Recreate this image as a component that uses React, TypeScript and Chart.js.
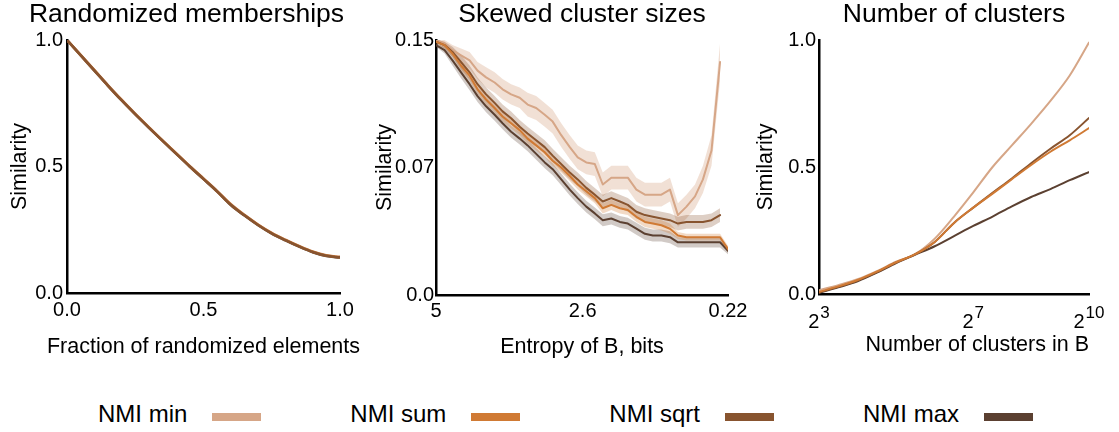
import React, { useEffect, useRef } from "react";
import { Chart, registerables } from "chart.js";

Chart.register(...registerables);

const FONT = "'Liberation Sans', Arial, Helvetica, sans-serif";

const SERIES_NAMES = ["NMI min", "NMI sum", "NMI sqrt", "NMI max"];
const SERIES_COLORS = ["#d6a687", "#d07a34", "#88542f", "#5b4031"];
const BAND_COLORS = [
  "rgba(214,166,135,0.35)",
  "rgba(208,122,52,0.28)",
  "rgba(136,84,47,0.28)",
  "rgba(91,64,49,0.28)",
];
const Y_TITLE = "Similarity";

// ---------- Panel 1: Randomized memberships ----------
const P1_TITLE = "Randomized memberships";
const P1_XLABEL = "Fraction of randomized elements";
const P1_X = [0, 0.05, 0.1, 0.15, 0.2, 0.25, 0.3, 0.35, 0.4, 0.45, 0.5, 0.55, 0.6, 0.65, 0.7, 0.75, 0.8, 0.85, 0.9, 0.95, 1.0];
const P1_MIN = [1.0, 0.941, 0.882, 0.822, 0.764, 0.709, 0.656, 0.603, 0.553, 0.502, 0.453, 0.404, 0.352, 0.309, 0.271, 0.238, 0.211, 0.186, 0.164, 0.149, 0.143];
const P1_SUM = [1.0, 0.94, 0.881, 0.82, 0.763, 0.707, 0.655, 0.602, 0.552, 0.5, 0.452, 0.402, 0.35, 0.308, 0.27, 0.237, 0.21, 0.185, 0.163, 0.148, 0.142];
const P1_SQRT = [1.0, 0.94, 0.88, 0.82, 0.762, 0.707, 0.654, 0.602, 0.551, 0.5, 0.451, 0.402, 0.349, 0.307, 0.269, 0.236, 0.209, 0.184, 0.162, 0.147, 0.141];
const P1_MAX = [1.0, 0.939, 0.879, 0.819, 0.761, 0.706, 0.653, 0.601, 0.55, 0.499, 0.45, 0.401, 0.348, 0.306, 0.268, 0.235, 0.208, 0.183, 0.161, 0.146, 0.14];
const P1_X_TICKS = [0, 0.5, 1];
const P1_X_LABELS = ["0.0", "0.5", "1.0"];
const P1_Y_TICKS = [0, 0.5, 1];
const P1_Y_LABELS = ["0.0", "0.5", "1.0"];

// ---------- Panel 2: Skewed cluster sizes ----------
const P2_TITLE = "Skewed cluster sizes";
const P2_XLABEL = "Entropy of B, bits";
const P2_X = [5.0, 4.86, 4.73, 4.59, 4.45, 4.32, 4.18, 4.04, 3.91, 3.77, 3.63, 3.5, 3.36, 3.22, 3.09, 2.95, 2.81, 2.68, 2.54, 2.4, 2.27, 2.13, 1.99, 1.86, 1.72, 1.58, 1.45, 1.31, 1.17, 1.04, 0.9, 0.76, 0.63, 0.49, 0.35, 0.22];
const P2_MIN = [0.15, 0.148, 0.144, 0.141, 0.138, 0.132, 0.128, 0.125, 0.121, 0.118, 0.116, 0.112, 0.11, 0.106, 0.102, 0.094, 0.087, 0.081, 0.078, 0.077, 0.065, 0.069, 0.069, 0.069, 0.062, 0.059, 0.059, 0.059, 0.062, 0.047, 0.052, 0.058, 0.068, 0.085, 0.137, null];
const P2_SUM = [0.149, 0.147, 0.142, 0.135, 0.129, 0.121, 0.115, 0.11, 0.105, 0.101, 0.097, 0.092, 0.088, 0.084, 0.079, 0.075, 0.07, 0.065, 0.061, 0.057, 0.051, 0.053, 0.051, 0.05, 0.046, 0.043, 0.042, 0.041, 0.039, 0.035, 0.034, 0.034, 0.034, 0.034, 0.034, 0.027];
const P2_SQRT = [0.149, 0.147, 0.143, 0.137, 0.131, 0.124, 0.118, 0.113, 0.108, 0.104, 0.099, 0.095, 0.091, 0.087, 0.082, 0.077, 0.072, 0.068, 0.063, 0.059, 0.055, 0.057, 0.055, 0.053, 0.049, 0.047, 0.046, 0.045, 0.044, 0.042, 0.043, 0.043, 0.043, 0.044, 0.047, null];
const P2_MAX = [0.147, 0.144, 0.138, 0.131, 0.124, 0.117, 0.111, 0.106, 0.101, 0.096, 0.092, 0.088, 0.083, 0.078, 0.074, 0.068, 0.062, 0.057, 0.052, 0.048, 0.044, 0.045, 0.043, 0.042, 0.039, 0.036, 0.035, 0.035, 0.034, 0.031, 0.031, 0.031, 0.031, 0.031, 0.031, 0.026];
const P2_MIN_SPREAD = [0.001, 0.002, 0.003, 0.004, 0.005, 0.005, 0.006, 0.006, 0.006, 0.006, 0.006, 0.007, 0.007, 0.007, 0.007, 0.007, 0.007, 0.007, 0.007, 0.007, 0.007, 0.007, 0.007, 0.007, 0.007, 0.007, 0.007, 0.007, 0.007, 0.007, 0.007, 0.007, 0.008, 0.009, 0.011, null];
const P2_SUM_SPREAD = [0.001, 0.002, 0.002, 0.003, 0.003, 0.003, 0.003, 0.003, 0.003, 0.003, 0.003, 0.003, 0.003, 0.003, 0.003, 0.003, 0.003, 0.003, 0.003, 0.003, 0.003, 0.003, 0.003, 0.003, 0.003, 0.003, 0.003, 0.003, 0.003, 0.002, 0.002, 0.002, 0.002, 0.002, 0.002, 0.002];
const P2_SQRT_SPREAD = [0.001, 0.002, 0.003, 0.004, 0.004, 0.004, 0.004, 0.004, 0.004, 0.004, 0.004, 0.004, 0.004, 0.004, 0.004, 0.004, 0.004, 0.004, 0.004, 0.004, 0.004, 0.004, 0.004, 0.004, 0.004, 0.004, 0.004, 0.004, 0.004, 0.004, 0.004, 0.004, 0.004, 0.004, 0.004, null];
const P2_MAX_SPREAD = [0.001, 0.002, 0.003, 0.0035, 0.0035, 0.0035, 0.0035, 0.0035, 0.0035, 0.0035, 0.0035, 0.0035, 0.0035, 0.0035, 0.0035, 0.0035, 0.0035, 0.0035, 0.0035, 0.0035, 0.0035, 0.0035, 0.0035, 0.0035, 0.0035, 0.0035, 0.0035, 0.0035, 0.0035, 0.003, 0.003, 0.003, 0.003, 0.003, 0.003, 0.002];
const P2_X_TICKS = [5, 2.6, 0.22];
const P2_X_LABELS = ["5", "2.6", "0.22"];
const P2_Y_TICKS = [0, 0.075, 0.15];
const P2_Y_LABELS = ["0.0", "0.07", "0.15"];

// ---------- Panel 3: Number of clusters ----------
const P3_TITLE = "Number of clusters";
const P3_XLABEL = "Number of clusters in B";
const P3_X = [3, 3.5, 4, 4.5, 5, 5.5, 6, 6.5, 7, 7.5, 8, 8.5, 9, 9.5, 10]; // log2(#clusters)
const P3_MIN = [0.015, 0.035, 0.058, 0.09, 0.127, 0.158, 0.218, 0.305, 0.4, 0.5, 0.585, 0.67, 0.76, 0.86, 0.99];
const P3_SUM = [0.008, 0.03, 0.055, 0.088, 0.125, 0.157, 0.205, 0.28, 0.34, 0.395, 0.452, 0.508, 0.56, 0.605, 0.653];
const P3_SQRT = [0.006, 0.028, 0.053, 0.086, 0.124, 0.157, 0.205, 0.28, 0.34, 0.398, 0.455, 0.515, 0.572, 0.625, 0.693];
const P3_MAX = [0.004, 0.026, 0.05, 0.084, 0.122, 0.155, 0.188, 0.228, 0.268, 0.305, 0.345, 0.382, 0.413, 0.448, 0.48];
const P3_X_TICKS = [3, 7, 10];
const P3_X_TICK_BASE = "2";
const P3_X_TICK_EXP = ["3", "7", "10"];
const P3_Y_TICKS = [0, 0.5, 1];
const P3_Y_LABELS = ["0.0", "0.5", "1.0"];

// ---------- helpers ----------
type Val = number | null;
const pts = (xs: number[], ys: Val[]) => xs.map((x, i) => ({ x, y: ys[i] }));
const bandPts = (xs: number[], ys: Val[], sp: Val[], sign: number) =>
  xs.map((x, i) => ({
    x,
    y: ys[i] == null || sp[i] == null ? null : (ys[i] as number) + sign * (sp[i] as number),
  }));

function lineDs(label: string, data: any[], color: string, width: number, smooth = false) {
  return {
    label,
    data,
    borderColor: color,
    backgroundColor: color,
    borderWidth: width,
    pointRadius: 0,
    fill: false,
    tension: 0,
    cubicInterpolationMode: smooth ? "monotone" : "default",
    spanGaps: false,
    borderJoinStyle: "round",
    borderCapStyle: "round",
  };
}
function bandDs(xs: number[], ys: Val[], sp: Val[], color: string) {
  return [
    {
      label: "",
      data: bandPts(xs, ys, sp, 1),
      borderWidth: 0,
      pointRadius: 0,
      backgroundColor: color,
      fill: "+1",
      tension: 0,
      spanGaps: false,
    },
    {
      label: "",
      data: bandPts(xs, ys, sp, -1),
      borderWidth: 0,
      pointRadius: 0,
      backgroundColor: color,
      fill: false,
      tension: 0,
      spanGaps: false,
    },
  ];
}

type AxisSpec = {
  min: number;
  max: number;
  reverse?: boolean;
  ticks: number[];
  labels: string[];
  title: string;
  size: number;
  tickPad: number;
  titlePad: number;
  titleAlign?: "start" | "center" | "end";
  showTitle?: boolean;
  showTickLabels?: boolean;
};

function xScale(a: AxisSpec) {
  return {
    type: "linear",
    position: "bottom",
    min: a.min,
    max: a.max,
    reverse: !!a.reverse,
    afterBuildTicks: (s: any) => {
      s.ticks = a.ticks.map((v) => ({ value: v }));
    },
    afterFit: (s: any) => {
      s.height = a.size;
    },
    ticks: {
      display: a.showTickLabels !== false,
      autoSkip: false,
      maxRotation: 0,
      minRotation: 0,
      padding: a.tickPad,
      color: "#000",
      font: { family: FONT, size: 20 },
      callback: (_v: any, i: number) => a.labels[i],
    },
    grid: { display: false, drawTicks: false },
    border: { display: true, color: "#000", width: 2.5 },
    title: {
      display: a.showTitle !== false,
      text: a.title,
      color: "#000",
      align: a.titleAlign || "center",
      font: { family: FONT, size: 21.5 },
      padding: { top: 0, bottom: a.titlePad },
    },
  };
}

function yScale(a: AxisSpec) {
  return {
    type: "linear",
    position: "left",
    min: a.min,
    max: a.max,
    afterBuildTicks: (s: any) => {
      s.ticks = a.ticks.map((v) => ({ value: v }));
    },
    afterFit: (s: any) => {
      s.width = a.size;
    },
    ticks: {
      autoSkip: false,
      padding: a.tickPad,
      color: "#000",
      font: { family: FONT, size: 20 },
      callback: (_v: any, i: number) => a.labels[i],
    },
    grid: { display: false, drawTicks: false },
    border: { display: true, color: "#000", width: 2.5 },
    title: {
      display: true,
      text: Y_TITLE,
      color: "#000",
      font: { family: FONT, size: 21.5 },
      padding: { top: a.titlePad, bottom: 0 },
    },
  };
}

function baseOptions(title: string, fullSize: boolean, padRight: number, scales: any) {
  return {
    animation: false,
    responsive: false,
    devicePixelRatio: 1,
    events: [],
    layout: { padding: { left: 0, right: padRight, top: 0, bottom: 0 } },
    plugins: {
      legend: { display: false },
      tooltip: { enabled: false },
      title: {
        display: true,
        text: title,
        color: "#000",
        fullSize,
        font: { family: FONT, size: 26.5, weight: "normal", lineHeight: 1 },
        padding: { top: 1.5, bottom: 12 },
      },
    },
    scales,
  };
}

// Draws the x-axis title of panel 1 centred under the plot without width squeezing.
const freeXTitlePlugin = {
  id: "freeXTitle",
  afterDraw(chart: any) {
    const { ctx, chartArea } = chart;
    const sx = chart.scales.x;
    ctx.save();
    ctx.font = `21.5px ${FONT}`;
    ctx.fillStyle = "#000";
    ctx.textAlign = "center";
    ctx.textBaseline = "middle";
    ctx.fillText(P1_XLABEL, (chartArea.left + chartArea.right) / 2, sx.bottom - 32.5);
    ctx.restore();
  },
};

// Draws power-of-two tick labels (2 with a raised exponent) for panel 3.
const powerTicksPlugin = {
  id: "powerTicks",
  afterDraw(chart: any) {
    const { ctx } = chart;
    const sx = chart.scales.x;
    ctx.save();
    ctx.fillStyle = "#000";
    ctx.textBaseline = "alphabetic";
    ctx.textAlign = "left";
    P3_X_TICKS.forEach((v, i) => {
      const px = sx.getPixelForValue(v);
      ctx.font = `20px ${FONT}`;
      const wb = ctx.measureText(P3_X_TICK_BASE).width;
      ctx.font = `17px ${FONT}`;
      const we = ctx.measureText(P3_X_TICK_EXP[i]).width;
      const start = px - (wb + we + 1) / 2;
      ctx.font = `20px ${FONT}`;
      ctx.fillText(P3_X_TICK_BASE, start, sx.top + 34);
      ctx.font = `17px ${FONT}`;
      ctx.fillText(P3_X_TICK_EXP[i], start + wb + 1, sx.top + 24);
    });
    ctx.restore();
  },
};

function configP1(): any {
  return {
    type: "line",
    data: {
      datasets: [
        lineDs(SERIES_NAMES[2], pts(P1_X, P1_SQRT), SERIES_COLORS[2], 2.5, true),
        lineDs(SERIES_NAMES[1], pts(P1_X, P1_SUM), SERIES_COLORS[1], 2.5, true),
        lineDs(SERIES_NAMES[3], pts(P1_X, P1_MAX), SERIES_COLORS[3], 2.5, true),
        lineDs(SERIES_NAMES[0], pts(P1_X, P1_MIN), SERIES_COLORS[0], 2.5, true),
      ],
    },
    options: baseOptions(P1_TITLE, true, 0, {
      x: xScale({ min: 0, max: 1, ticks: P1_X_TICKS, labels: P1_X_LABELS, title: P1_XLABEL, size: 87, tickPad: 5, titlePad: 19.6, showTitle: false }),
      y: yScale({ min: 0, max: 1, ticks: P1_Y_TICKS, labels: P1_Y_LABELS, title: Y_TITLE, size: 67, tickPad: 4, titlePad: 7 }),
      yRight: {
        type: "linear",
        position: "right",
        display: true,
        ticks: { display: false },
        grid: { display: false, drawTicks: false },
        border: { display: false },
        afterFit: (s: any) => {
          s.width = 33;
        },
      },
    }),
    plugins: [freeXTitlePlugin],
  };
}

function configP2(): any {
  return {
    type: "line",
    data: {
      datasets: [
        lineDs(SERIES_NAMES[1], pts(P2_X, P2_SUM), SERIES_COLORS[1], 2),
        lineDs(SERIES_NAMES[3], pts(P2_X, P2_MAX), SERIES_COLORS[3], 2),
        lineDs(SERIES_NAMES[2], pts(P2_X, P2_SQRT), SERIES_COLORS[2], 2),
        lineDs(SERIES_NAMES[0], pts(P2_X, P2_MIN), SERIES_COLORS[0], 2),
        ...bandDs(P2_X, P2_SUM, P2_SUM_SPREAD, BAND_COLORS[1]),
        ...bandDs(P2_X, P2_SQRT, P2_SQRT_SPREAD, BAND_COLORS[2]),
        ...bandDs(P2_X, P2_MAX, P2_MAX_SPREAD, BAND_COLORS[3]),
        ...bandDs(P2_X, P2_MIN, P2_MIN_SPREAD, BAND_COLORS[0]),
      ],
    },
    options: baseOptions(P2_TITLE, false, 24, {
      x: xScale({ min: 0.22, max: 5, reverse: true, ticks: P2_X_TICKS, labels: P2_X_LABELS, title: P2_XLABEL, size: 85, tickPad: 4, titlePad: 19.6 }),
      y: yScale({ min: 0, max: 0.15, ticks: P2_Y_TICKS, labels: P2_Y_LABELS, title: Y_TITLE, size: 64, tickPad: 2, titlePad: 0 }),
    }),
  };
}

function configP3(): any {
  return {
    type: "line",
    data: {
      datasets: [
        lineDs(SERIES_NAMES[1], pts(P3_X, P3_SUM), SERIES_COLORS[1], 2, true),
        lineDs(SERIES_NAMES[2], pts(P3_X, P3_SQRT), SERIES_COLORS[2], 2, true),
        lineDs(SERIES_NAMES[3], pts(P3_X, P3_MAX), SERIES_COLORS[3], 2, true),
        lineDs(SERIES_NAMES[0], pts(P3_X, P3_MIN), SERIES_COLORS[0], 2, true),
      ],
    },
    options: baseOptions(P3_TITLE, false, 30, {
      x: xScale({
        min: 3,
        max: 10,
        ticks: P3_X_TICKS,
        labels: P3_X_TICK_EXP.map((e) => P3_X_TICK_BASE + "^" + e),
        title: P3_XLABEL,
        size: 86,
        tickPad: 14,
        titlePad: 21.6,
        titleAlign: "end",
        showTickLabels: false,
      }),
      y: yScale({ min: 0, max: 1, ticks: P3_Y_TICKS, labels: P3_Y_LABELS, title: Y_TITLE, size: 73, tickPad: 3, titlePad: 7 }),
    }),
    plugins: [powerTicksPlugin],
  };
}

function ChartCanvas(props: { left: number; width: number; height: number; config: () => any }) {
  const ref = useRef<HTMLCanvasElement>(null);
  useEffect(() => {
    const chart = new Chart(ref.current as HTMLCanvasElement, props.config());
    return () => chart.destroy();
  }, []);
  return (
    <canvas
      ref={ref}
      width={props.width}
      height={props.height}
      style={{ position: "absolute", left: props.left, top: 0, width: props.width, height: props.height }}
    />
  );
}

export default function App() {
  return (
    <div style={{ position: "absolute", left: 0, top: 0, width: 1119, height: 432, background: "#fff", overflow: "hidden" }}>
      <ChartCanvas left={0} width={373} height={380} config={configP1} />
      <ChartCanvas left={372} width={380} height={380} config={configP2} />
      <ChartCanvas left={746} width={373} height={380} config={configP3} />
      <div
        style={{
          position: "absolute",
          left: 98,
          top: 402,
          display: "flex",
          gap: 89,
          fontFamily: FONT,
          fontSize: 24,
          lineHeight: "24px",
          color: "#000",
          whiteSpace: "nowrap",
        }}
      >
        {SERIES_NAMES.map((name, i) => (
          <div key={name} style={{ display: "flex" }}>
            <span>{name}</span>
            <span
              style={{
                display: "inline-block",
                width: 49,
                height: 8,
                marginLeft: 25,
                marginTop: 11,
                background: SERIES_COLORS[i],
              }}
            />
          </div>
        ))}
      </div>
    </div>
  );
}
